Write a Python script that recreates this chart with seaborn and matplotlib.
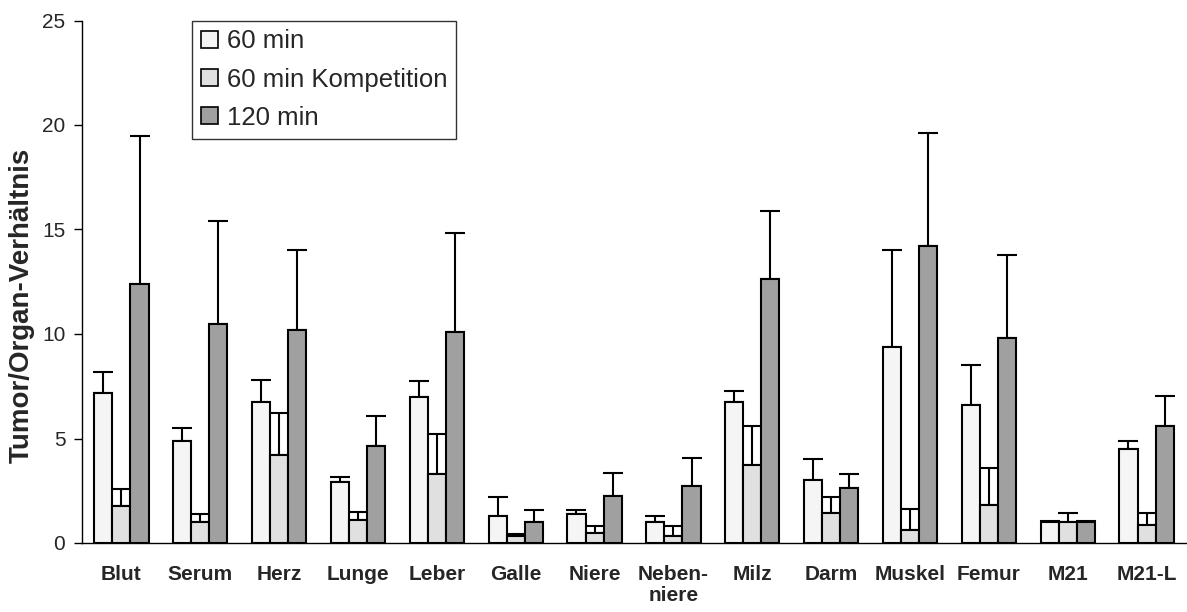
import numpy as np
import pandas as pd
import matplotlib
matplotlib.use("Agg")
import matplotlib.pyplot as plt
import seaborn as sns
from matplotlib.patches import Patch

categories = ["Blut", "Serum", "Herz", "Lunge", "Leber", "Galle", "Niere",
              "Neben-\nniere", "Milz", "Darm", "Muskel", "Femur", "M21", "M21-L"]
series = ["60 min", "60 min Kompetition", "120 min"]
v60 = [7.2, 4.9, 6.75, 2.9, 7.0, 1.3, 1.4, 1.0, 6.75, 3.0, 9.4, 6.6, 1.0, 4.5]
e60 = [1.0, 0.6, 1.05, 0.25, 0.75, 0.9, 0.2, 0.3, 0.5, 1.0, 4.6, 1.9, 0.05, 0.4]
v60k = [1.75, 1.0, 4.2, 1.1, 3.3, 0.35, 0.5, 0.35, 3.75, 1.45, 0.6, 1.8, 1.0, 0.85]
e60k = [0.85, 0.4, 2.0, 0.4, 1.9, 0.1, 0.3, 0.45, 1.85, 0.75, 1.05, 1.8, 0.45, 0.6]
v120 = [12.4, 10.5, 10.2, 4.65, 10.1, 1.0, 2.25, 2.75, 12.65, 2.65, 14.2, 9.8, 1.0, 5.6]
e120 = [7.05, 4.9, 3.8, 1.45, 4.75, 0.6, 1.1, 1.3, 3.25, 0.65, 5.4, 4.0, 0.05, 1.45]
yticks = [0, 5, 10, 15, 20, 25]

colors = ["#f5f5f5", "#e0e0e0", "#a0a0a0"]

df = pd.DataFrame({
    "Organ": categories * 3,
    "Serie": sum([[s] * len(categories) for s in series], []),
    "Wert": v60 + v60k + v120,
    "Fehler": e60 + e60k + e120,
})

sns.set_style("white")
plt.rcParams["font.family"] = ["Liberation Sans", "DejaVu Sans"]

fig = plt.figure(figsize=(11.87, 6.12), dpi=100)
ax = fig.add_axes([82 / 1187, 1 - 543 / 612, (1186 - 82) / 1187, (543 - 20.5) / 612])

sns.barplot(data=df, x="Organ", y="Wert", hue="Serie", order=categories,
            hue_order=series, palette=colors, width=0.69, edgecolor="black",
            linewidth=1.5, errorbar=None, legend=False, ax=ax, zorder=2)

# error bars (upward only) at bar centres
for patch_group, s in zip(ax.containers, series):
    sub = df[df["Serie"] == s].set_index("Organ").loc[categories]
    xs = [p.get_x() + p.get_width() / 2 for p in patch_group]
    ax.errorbar(xs, sub["Wert"].values,
                yerr=[np.zeros(len(xs)), sub["Fehler"].values],
                fmt="none", ecolor="black", elinewidth=1.5, capsize=7.5,
                capthick=1.5, zorder=1)

ax.set_ylim(0, 25)
ax.set_xlim(-0.5, len(categories) - 0.5)
ax.set_yticks(yticks)
ax.set_yticklabels([str(t) for t in yticks], fontsize=15)
ax.set_xticks(range(len(categories)))
ax.set_xticklabels(categories, fontsize=15, fontweight="bold", linespacing=1.1)
ax.set_xticks(np.arange(0.5, len(categories), 1.0), minor=True)
ax.tick_params(axis="x", which="major", length=0, pad=16)
ax.tick_params(axis="x", which="minor", length=6, width=1, direction="out", color="black")
ax.tick_params(axis="y", length=6, width=1, direction="out", color="black", pad=6, left=True)
ax.set_xlabel("")
ax.set_ylabel("Tumor/Organ-Verhältnis", fontsize=20, fontweight="bold")
ax.yaxis.set_label_coords(-0.043, 0.455)

for sp in ["top", "right"]:
    ax.spines[sp].set_visible(False)
for sp in ["left", "bottom"]:
    ax.spines[sp].set_color("black")
    ax.spines[sp].set_linewidth(1)

handles = [Patch(facecolor=c, edgecolor="black", linewidth=1.2) for c in colors]
leg = ax.legend(handles, series, loc="upper left", bbox_to_anchor=((192 - 82) / 1104, 1.0),
                fontsize=18.5, frameon=True, fancybox=False, edgecolor="black",
                handlelength=0.65, handleheight=0.65, handletextpad=0.35,
                labelspacing=0.55, borderpad=0.35, borderaxespad=0)
leg.get_frame().set_linewidth(1)

fig.savefig("out.png", dpi=100)
